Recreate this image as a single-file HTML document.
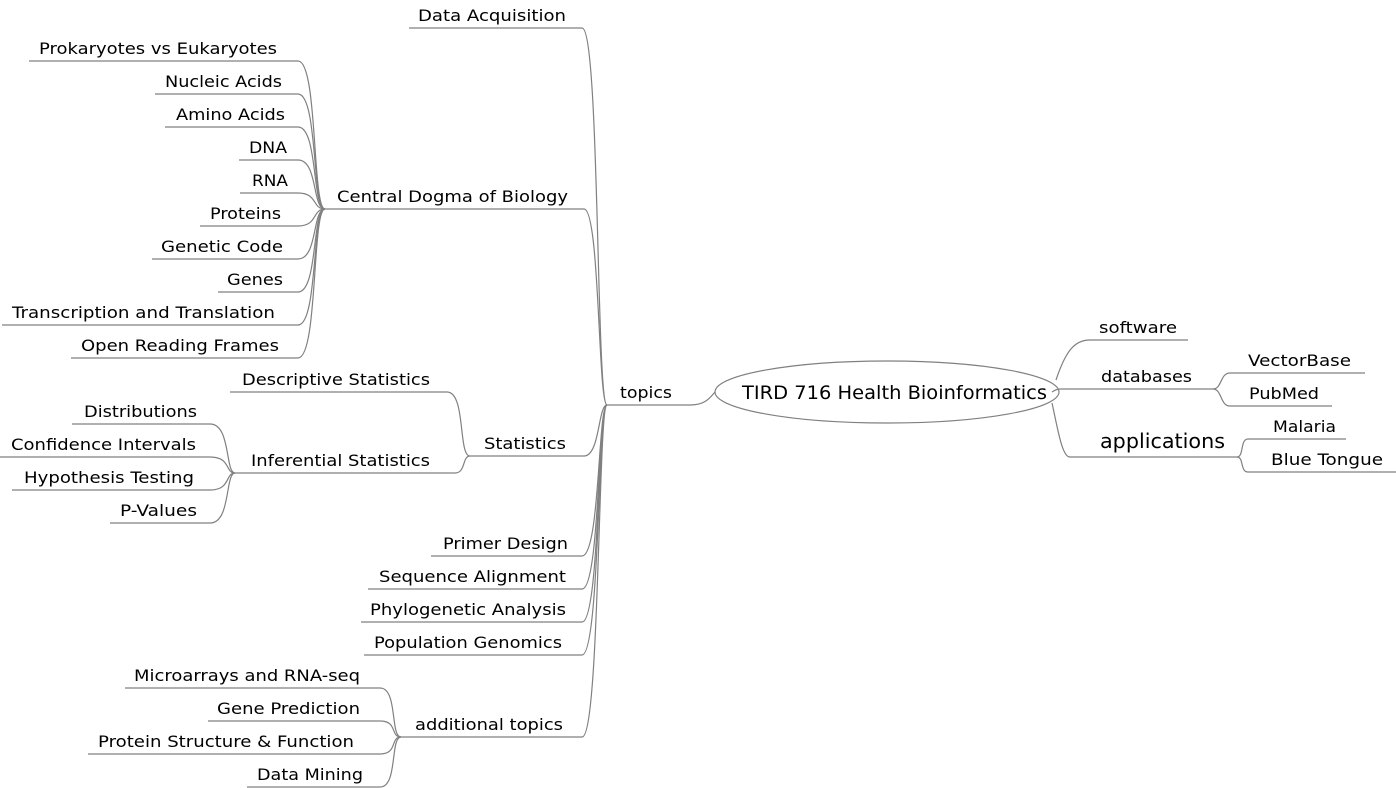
<!DOCTYPE html>
<html><head><meta charset="utf-8"><style>
html,body{margin:0;padding:0;background:#fff;}
svg{display:block;}
text{font-family:"DejaVu Sans","Liberation Sans",sans-serif;font-size:16px;fill:#000;}
path,line{stroke:#808080;stroke-width:1.2;fill:none;}
</style></head><body>
<svg width="1396" height="788" viewBox="0 0 1396 788" xmlns="http://www.w3.org/2000/svg">
<!-- root -->
<ellipse cx="887" cy="392" rx="172" ry="31" fill="none" stroke="#808080" stroke-width="1.2"/>
<text x="742" y="399" font-size="19" style="font-size:19px" textLength="305" lengthAdjust="spacingAndGlyphs">TIRD 716 Health Bioinformatics</text>
<!-- topics -->
<text x="620" y="398" textLength="52" lengthAdjust="spacingAndGlyphs">topics</text>
<path d="M607 405 L690 405 C705 405 710 398 715 392"/>

<!-- topics children -->
<g>
<line x1="409" y1="28" x2="582" y2="28"/><path d="M582 28 C600 28 596 405 607 405"/>
<text x="418" y="21" textLength="148" lengthAdjust="spacingAndGlyphs">Data Acquisition</text>

<line x1="325" y1="209" x2="584" y2="209"/><path d="M584 209 C600 209 598 405 607 405"/>
<text x="337" y="202" textLength="231" lengthAdjust="spacingAndGlyphs">Central Dogma of Biology</text>

<line x1="470" y1="456" x2="584" y2="456"/><path d="M584 456 C600 456 598 405 607 405"/>
<text x="484" y="449" textLength="82" lengthAdjust="spacingAndGlyphs">Statistics</text>

<line x1="431" y1="556" x2="582" y2="556"/><path d="M582 556 C600 556 598 405 607 405"/>
<text x="443" y="549" textLength="125" lengthAdjust="spacingAndGlyphs">Primer Design</text>

<line x1="368" y1="589" x2="582" y2="589"/><path d="M582 589 C600 589 598 405 607 405"/>
<text x="379" y="582" textLength="187" lengthAdjust="spacingAndGlyphs">Sequence Alignment</text>

<line x1="361" y1="622" x2="582" y2="622"/><path d="M582 622 C600 622 598 405 607 405"/>
<text x="370" y="615" textLength="196" lengthAdjust="spacingAndGlyphs">Phylogenetic Analysis</text>

<line x1="364" y1="655" x2="582" y2="655"/><path d="M582 655 C600 655 598 405 607 405"/>
<text x="374" y="648" textLength="188" lengthAdjust="spacingAndGlyphs">Population Genomics</text>

<line x1="401" y1="737" x2="582" y2="737"/><path d="M582 737 C600 737 598 405 607 405"/>
<text x="415" y="730" textLength="148" lengthAdjust="spacingAndGlyphs">additional topics</text>
</g>

<!-- central dogma children -->
<g>
<line x1="29" y1="61" x2="298" y2="61"/><path d="M298 61 C318 61 312 209 325 209"/>
<text x="39" y="54" textLength="238" lengthAdjust="spacingAndGlyphs">Prokaryotes vs Eukaryotes</text>
<line x1="155" y1="94" x2="298" y2="94"/><path d="M298 94 C318 94 312 209 325 209"/>
<text x="165" y="87" textLength="117" lengthAdjust="spacingAndGlyphs">Nucleic Acids</text>
<line x1="165" y1="127" x2="298" y2="127"/><path d="M298 127 C318 127 312 209 325 209"/>
<text x="176" y="120" textLength="109" lengthAdjust="spacingAndGlyphs">Amino Acids</text>
<line x1="239" y1="160" x2="298" y2="160"/><path d="M298 160 C318 160 312 209 325 209"/>
<text x="249" y="153" textLength="38" lengthAdjust="spacingAndGlyphs">DNA</text>
<line x1="240" y1="193" x2="298" y2="193"/><path d="M298 193 C318 193 312 209 325 209"/>
<text x="252" y="186" textLength="36" lengthAdjust="spacingAndGlyphs">RNA</text>
<line x1="200" y1="226" x2="298" y2="226"/><path d="M298 226 C318 226 312 209 325 209"/>
<text x="210" y="219" textLength="71" lengthAdjust="spacingAndGlyphs">Proteins</text>
<line x1="152" y1="259" x2="298" y2="259"/><path d="M298 259 C318 259 312 209 325 209"/>
<text x="161" y="252" textLength="122" lengthAdjust="spacingAndGlyphs">Genetic Code</text>
<line x1="218" y1="292" x2="298" y2="292"/><path d="M298 292 C318 292 312 209 325 209"/>
<text x="227" y="285" textLength="56" lengthAdjust="spacingAndGlyphs">Genes</text>
<line x1="2" y1="325" x2="298" y2="325"/><path d="M298 325 C318 325 312 209 325 209"/>
<text x="12" y="318" textLength="263" lengthAdjust="spacingAndGlyphs">Transcription and Translation</text>
<line x1="71" y1="358" x2="298" y2="358"/><path d="M298 358 C318 358 312 209 325 209"/>
<text x="81" y="351" textLength="198" lengthAdjust="spacingAndGlyphs">Open Reading Frames</text>
</g>

<!-- statistics children -->
<g>
<line x1="230" y1="392" x2="447" y2="392"/><path d="M447 392 C466 392 458 456 470 456"/>
<text x="242" y="385" textLength="188" lengthAdjust="spacingAndGlyphs">Descriptive Statistics</text>
<line x1="235" y1="473" x2="455" y2="473"/><path d="M455 473 C466 473 462 456 470 456"/>
<text x="251" y="466" textLength="179" lengthAdjust="spacingAndGlyphs">Inferential Statistics</text>
</g>
<g>
<line x1="72" y1="424" x2="210" y2="424"/><path d="M210 424 C231 424 225 473 235 473"/>
<text x="84" y="417" textLength="113" lengthAdjust="spacingAndGlyphs">Distributions</text>
<line x1="0" y1="457" x2="210" y2="457"/><path d="M210 457 C231 457 225 473 235 473"/>
<text x="11" y="450" textLength="185" lengthAdjust="spacingAndGlyphs">Confidence Intervals</text>
<line x1="12" y1="490" x2="210" y2="490"/><path d="M210 490 C231 490 225 473 235 473"/>
<text x="24" y="483" textLength="170" lengthAdjust="spacingAndGlyphs">Hypothesis Testing</text>
<line x1="110" y1="523" x2="210" y2="523"/><path d="M210 523 C231 523 225 473 235 473"/>
<text x="120" y="516" textLength="77" lengthAdjust="spacingAndGlyphs">P-Values</text>
</g>

<!-- additional topics children -->
<g>
<line x1="125" y1="688" x2="380" y2="688"/><path d="M380 688 C398 688 390 737 401 737"/>
<text x="134" y="681" textLength="226" lengthAdjust="spacingAndGlyphs">Microarrays and RNA-seq</text>
<line x1="208" y1="721" x2="380" y2="721"/><path d="M380 721 C398 721 390 737 401 737"/>
<text x="217" y="714" textLength="143" lengthAdjust="spacingAndGlyphs">Gene Prediction</text>
<line x1="88" y1="754" x2="380" y2="754"/><path d="M380 754 C398 754 390 737 401 737"/>
<text x="98" y="747" textLength="256" lengthAdjust="spacingAndGlyphs">Protein Structure &amp; Function</text>
<line x1="247" y1="787" x2="380" y2="787"/><path d="M380 787 C398 787 390 737 401 737"/>
<text x="257" y="780" textLength="106" lengthAdjust="spacingAndGlyphs">Data Mining</text>
</g>

<!-- right side -->
<g>
<line x1="1090" y1="340" x2="1188" y2="340"/><path d="M1056 380 C1066 350 1075 340 1090 340"/>
<text x="1099" y="333" textLength="78" lengthAdjust="spacingAndGlyphs">software</text>
<line x1="1060" y1="389" x2="1213" y2="389"/><path d="M1052 392 C1055 390 1058 389 1060 389"/>
<text x="1101" y="382" textLength="91" lengthAdjust="spacingAndGlyphs">databases</text>
<line x1="1070" y1="457" x2="1237" y2="457"/><path d="M1052 403 C1058 430 1062 457 1070 457"/>
<text x="1100" y="448" style="font-size:20px" textLength="125" lengthAdjust="spacingAndGlyphs">applications</text>

<line x1="1230" y1="373" x2="1365" y2="373"/><path d="M1213 389 C1222 389 1220 373 1230 373"/>
<text x="1248" y="366" textLength="103" lengthAdjust="spacingAndGlyphs">VectorBase</text>
<line x1="1230" y1="406" x2="1332" y2="406"/><path d="M1213 389 C1222 389 1220 406 1230 406"/>
<text x="1249" y="399" textLength="70" lengthAdjust="spacingAndGlyphs">PubMed</text>

<line x1="1248" y1="439" x2="1346" y2="439"/><path d="M1237 457 C1244 457 1240 439 1248 439"/>
<text x="1273" y="432" textLength="63" lengthAdjust="spacingAndGlyphs">Malaria</text>
<line x1="1248" y1="472" x2="1396" y2="472"/><path d="M1237 457 C1244 457 1240 472 1248 472"/>
<text x="1271" y="465" textLength="112" lengthAdjust="spacingAndGlyphs">Blue Tongue</text>
</g>
</svg>
</body></html>
